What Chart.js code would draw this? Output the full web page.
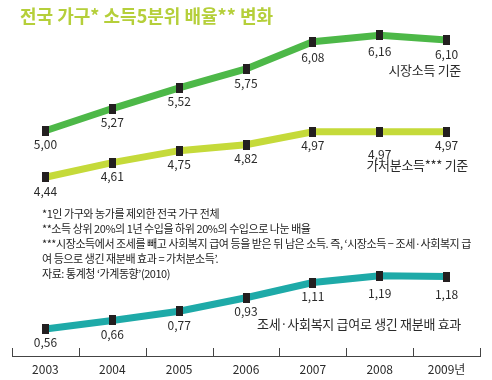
<!DOCTYPE html>
<html>
<head>
<meta charset="utf-8">
<script src="https://cdn.jsdelivr.net/npm/chart.js@4"></script>
<style>
  body { margin: 0; background: #fff; }
  #wrap { position: relative; width: 492px; height: 380px; font-family: 'Noto Sans CJK KR', 'Noto Sans', sans-serif; }
  canvas { position: absolute; left: 0; top: 0; }
  .txt { position: absolute; white-space: nowrap; color: #2a2a2a; }
  #title { left: 20px; top: 2px; font-size: 18px; font-weight: bold; color: #b5cf3a; }
  #notes { left: 42px; top: 206px; font-size: 11px; line-height: 15px; letter-spacing: -0.45px; color: #222; }
  .name { font-size: 13px; letter-spacing: -0.3px; }
</style>
</head>
<body>
<div id="wrap">
  <canvas id="chart" width="492" height="380"></canvas>
  <div class="txt" id="title">전국 가구* 소득5분위 배율** 변화</div>
  <div class="txt name" style="right:31px; top:60px;">시장소득 기준</div>
  <div class="txt name" style="right:24px; top:155px;">가처분소득*** 기준</div>
  <div class="txt name" style="left:257px; top:314px;">조세·사회복지 급여로 생긴 재분배 효과</div>
  <div class="txt" id="notes">
    *1인 가구와 농가를 제외한 전국 가구 전체<br>
    **소득 상위 20%의 1년 수입을 하위 20%의 수입으로 나눈 배율<br>
    ***시장소득에서 조세를 빼고 사회복지 급여 등을 받은 뒤 남은 소득. 즉, ‘시장소득 − 조세·사회복지 급<br>
    여 등으로 생긴 재분배 효과 = 가처분소득’.<br>
    자료: 통계청 ‘가계동향’(2010)
  </div>
</div>
<script>
// Data
const years = ['2003', '2004', '2005', '2006', '2007', '2008', '2009년'];
const marketIncome = [5.00, 5.27, 5.52, 5.75, 6.08, 6.16, 6.10];
const disposableIncome = [4.44, 4.61, 4.75, 4.82, 4.97, 4.97, 4.97];
const redistribution = [0.56, 0.66, 0.77, 0.93, 1.11, 1.19, 1.18];

// extra downward shift for a few value labels (dataset-index) -> px
const labelShift = { '1-5': 9, '0-5': 2, '0-4': 2, '2-5': 4, '2-6': 4 };

// tall black marker
function makeMarker() {
    const c = document.createElement('canvas');
    c.width = 7;
    c.height = 10;
    const g = c.getContext('2d');
    g.fillStyle = '#231f20';
    g.fillRect(0, 0, 7, 10);
    return c;
}
const marker = makeMarker();

function lineSet(data, color, axis) {
    return {
        data: data,
        yAxisID: axis,
        borderColor: color,
        borderWidth: 7,
        tension: 0,
        pointStyle: marker,
        pointRadius: 5,
        pointHoverRadius: 5,
        fill: false
    };
}

// value labels under each point + upward tick marks on the x axis
const decoPlugin = {
    id: 'deco',
    afterDatasetsDraw(chart) {
        const ctx = chart.ctx;
        ctx.save();
        ctx.fillStyle = '#2a2a2a';
        ctx.font = '12px "Noto Sans CJK KR", sans-serif';
        ctx.textAlign = 'center';
        ctx.textBaseline = 'middle';
        chart.data.datasets.forEach((ds, di) => {
            const meta = chart.getDatasetMeta(di);
            meta.data.forEach((pt, i) => {
                const txt = ds.data[i].toFixed(2).replace('.', ',');
                const shift = labelShift[di + '-' + i] || 0;
                ctx.fillText(txt, pt.x, pt.y + 14 + shift);
            });
        });

        const xs = chart.scales.x;
        const step = xs.width / years.length;
        ctx.strokeStyle = '#444';
        ctx.lineWidth = 1;
        for (let i = 0; i <= years.length; i++) {
            const x = Math.round(xs.left + i * step) + 0.5;
            ctx.beginPath();
            ctx.moveTo(x, xs.top - 8);
            ctx.lineTo(x, xs.top);
            ctx.stroke();
        }
        ctx.restore();
    }
};

new Chart(document.getElementById('chart'), {
    type: 'line',
    data: {
        labels: years,
        datasets: [
            lineSet(marketIncome, '#4db848', 'yMarket'),
            lineSet(disposableIncome, '#c5da3a', 'yDisp'),
            lineSet(redistribution, '#1eaaa8', 'yRedis')
        ]
    },
    options: {
        responsive: false,
        animation: false,
        devicePixelRatio: 1,
        layout: { padding: { left: 0, right: 7, top: 0, bottom: -2.4 } },
        plugins: { legend: { display: false }, tooltip: { enabled: false } },
        scales: {
            x: {
                offset: true,
                grid: { display: false, drawTicks: false },
                border: { display: true, color: '#444', width: 1 },
                ticks: { color: '#2a2a2a', padding: 6, font: { size: 12, family: '"Noto Sans CJK KR", sans-serif' } }
            },
            yMarket: { display: false, min: 2.268, max: 6.441 },
            yDisp: { display: false, min: 2.354, max: 6.368 },
            yRedis: { display: false, min: 0.239, max: 4.317 }
        }
    },
    plugins: [decoPlugin]
});
</script>
</body>
</html>
